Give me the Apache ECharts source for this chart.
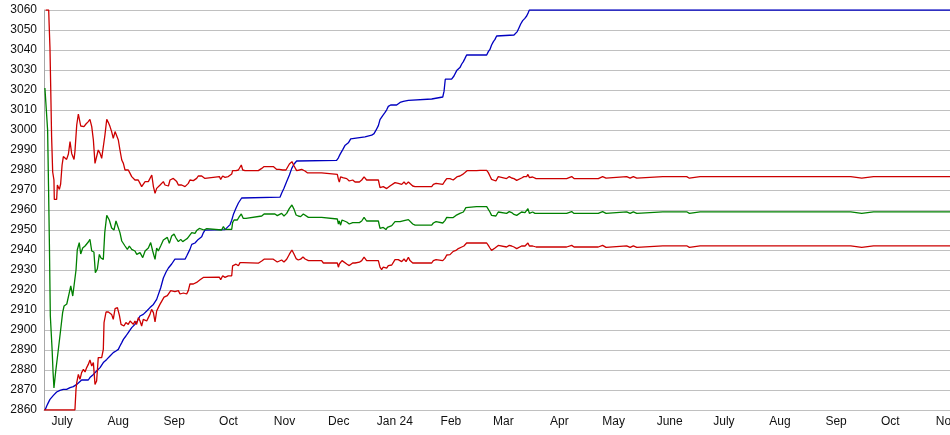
<!DOCTYPE html>
<html>
<head>
<meta charset="utf-8">
<script src="https://cdn.jsdelivr.net/npm/echarts@6/dist/echarts.min.js"></script>
<style>
  html, body { margin: 0; padding: 0; background: #fff; }
  #chart { width: 950px; height: 435px; }
</style>
</head>
<body>
<div id="chart"></div>
<script>
// x values are days since 2023-06-21
const startDate = '2023-06-21';
const lastDay = 501;
const monthTicks = ['2023-07-01','2023-08-01','2023-09-01','2023-10-01','2023-11-01','2023-12-01','2024-01-01','2024-02-01','2024-03-01','2024-04-01','2024-05-01','2024-06-01','2024-07-01','2024-08-01','2024-09-01','2024-10-01','2024-11-01'];
const monthLabels = ['July','Aug','Sep','Oct','Nov','Dec','Jan 24','Feb','Mar','Apr','May','June','July','Aug','Sep','Oct','Nov'];
const yTicks = {min: 2860, max: 3060, step: 10};

const upperRed = [[0.9,3060],[2.6,3060],[2.8,3054],[3.3,3041],[3.7,3021.7],[4.2,2996.7],[4.8,2979],[5.5,2975],[5.7,2965.3],[7,2965.3],[7.4,2972.5],[8.5,2970.3],[9.2,2973],[10,2982.5],[10.7,2986.7],[11.6,2987.5],[12.5,2985.3],[13.5,2988],[14.4,2994.2],[15.3,2988.3],[16.6,2985.3],[17.1,2989.2],[18.1,3002.5],[19,3008],[19.5,3008.3],[20.3,3002],[21.2,3003],[22.1,3001.7],[23.2,3003],[24.5,3004.2],[25.4,3005.3],[26.4,3001.7],[27.3,2995],[28.2,2983.3],[29.1,2982.5],[30,2990],[31,2988.3],[31.9,2985.8],[32.8,2985],[33.7,2997.5],[34.7,3005.3],[35.6,3003.7],[36.5,3001.7],[37.4,2999.2],[38.3,2995.8],[39.3,2999.2],[40.2,2999],[41.1,2995],[42,2990],[43,2985],[43.9,2983.3],[44.8,2980],[45.7,2979.2],[46.6,2980],[47.6,2978.3],[48.5,2976.7],[49.4,2977.5],[50.3,2975],[51.3,2974.2],[52.1,2975],[53.1,2973.3],[54,2971.7],[54.9,2970.8],[55.9,2974.2],[56.8,2975],[57.7,2974.2],[58.6,2975],[59.6,2977.5],[60.5,2971.7],[61.4,2968.3],[62.3,2970.8],[63.2,2971.7],
[64.2,2972.5],[65.1,2973.3],[66,2974.2],[66.9,2972.5],[67.8,2973.3],[68.8,2972],[69.7,2975],[70.6,2974.7],[71.5,2975.8],[72.4,2976.3],[73.4,2974.2],[74.3,2972.5],[75.2,2971.7],[76.1,2972.5],[77.1,2972.5],[78,2971.7],[78.9,2971.7],[79.8,2973.3],[80.7,2975],[81.7,2975.3],[82.6,2974.7],[83.5,2975.3],[84.4,2975.8],[85.3,2977],[86.3,2977.5],[87.2,2977],[88.1,2976.3],[89,2975.8],[90,2976.7],[97,2976.7],[97.7,2975.3],[98.8,2977],[100.1,2976.3],[101.9,2976.7],[102.9,2977],[103.8,2978],[104.3,2979.7],[105.1,2980.3],[106.2,2979.7],[107.5,2980],[108.4,2980.8],[109.1,2982.5],[109.9,2980],[111.2,2979.7],[118.5,2979.7],[119.5,2980.3],[120.4,2980.8],[121.7,2981.7],[126.8,2981.7],[127.7,2980.8],[128.7,2980.3],[130.1,2980.3],[130.9,2980.8],[132,2980],[132.7,2980.8],[133.8,2980],[134.6,2980.8],[135.7,2983],[137.1,2984.2],[138.3,2982],[139.7,2979.7],[141.2,2980],
[142.5,2980.3],[143.4,2980.6],[144.3,2979.5],[145.6,2978.6],[153.5,2978.6],[154.5,2977.8],[162.2,2977.8],[162.8,2975.3],[163.3,2974],[164,2976.6],[165.2,2976.2],[165.9,2977],[167.4,2975.7],[168.8,2974.5],[169.6,2973.7],[170.7,2975],[172,2974],[174.4,2974],[175.7,2975],[177,2976.6],[178.4,2975],[184.9,2975],[185.8,2971.2],[186.7,2970.7],[187.6,2971.7],[188.6,2970.7],[189.5,2970.7],[190.4,2971.7],[191.3,2972],[192.3,2972],[194.1,2973.7],[195,2972.8],[195.9,2973.3],[196.9,2973.7],[197.8,2972.8],[199.1,2974],[200.2,2972.8],[201.5,2974],[202.4,2973.3],[203.9,2972],[205.2,2971.7],[214.4,2971.7],[215.3,2972.8],[216.8,2973.3],[220.5,2972.8],[221.7,2974.5],[222.7,2975.7],
[224.5,2975.7],[225.4,2975.7],[226.3,2975],[227.3,2975.3],[228.6,2976.7],[230,2977],[231.5,2977.8],[232.8,2978.7],[234.1,2979.7],[239.2,2979.7],[240.2,2980.7],[241.1,2979.8],[244.8,2979.8],[245.7,2978.7],[246.6,2977],[247.5,2975.3],[248.5,2974.5],[249.9,2974.5],[251.2,2976.7],[252.1,2975.7],[255.8,2975.7],[257.3,2976.7],[258.6,2976],[259.9,2975.7],[261.4,2974.8],[262.5,2975.7],[264.1,2976],[265.4,2976.7],[266.9,2976.7],[267.6,2977.8],[268.4,2976.2],[269.1,2976.7],[270.2,2976.5],[272.1,2975.7],[282.6,2975.7],[283.1,2976.7],[283.9,2975.7],[289,2975.7],[289.9,2976.7],[291.8,2976.7],[293.1,2975.7],[306.5,2975.7],[307.1,2976.7],[308.9,2976.7],[309.7,2975.9],[310.8,2975.9],[311.6,2976.7],
[322.2,2976.7],[323.2,2975.9],[324.1,2975.9],[325,2976.7],[325.9,2976.7],[326.9,2975.9],[327.8,2975.9],[328.7,2976.7],[342.2,2976.7],[342.9,2975.9],[343.6,2976.7],[355.4,2976.7],[356,2975.9],[356.9,2975.9],[357.6,2976.7],[362.8,2976.7],[363.7,2975.9],[364.6,2976.7],[370.2,2976.7],[370.7,2975.9],[371.3,2976.7],[436.2,2976.7],[436.5,2975.9],[437.1,2976.7],[446.1,2976.7],[446.9,2975.9],[452.2,2975.9],[452.8,2976.7],[458.7,2976.7],[459.6,2975.9],[460.5,2976.7],[501,2976.7]];

const green = [[0.5,3021],[1,3014],[2,3000],[2.5,2972],[3,2942],[3.5,2907],[4.5,2890],[5,2879],[5.5,2871],[6.5,2879.5],[7.9,2890],[9.2,2900],[10.3,2908.7],[11.1,2912],[12.6,2913],[14,2918.7],[14.8,2922],[15.9,2917],[16.8,2917],[17.7,2930],[18.4,2940],[19.5,2943.7],[20.3,2938],[21.4,2941],[22.7,2942],[24.5,2944],[25.4,2945.3],[26.4,2939.5],[27.6,2939],[28.4,2928.7],[29.5,2930.5],[30.6,2937.8],[31.5,2936],[32.8,2935.3],[33.6,2948.7],[34.7,2957.3],[36.1,2955],[37.4,2951],[38.7,2950],[39.8,2954.5],[40.9,2954.5],[42,2948.7],[43,2944.5],[44.8,2942],[46.1,2940.3],[47.2,2942],[48.5,2940.3],[50.3,2939.5],[51.3,2937.8],[53.1,2938.7],[54.6,2936.2],[55.9,2939.5],[57.7,2941],[59,2943.7],[60.1,2939.5],[61.4,2935.3],[62.3,2941],[63.2,2939.5],[64.5,2942],
[66,2945],[68.2,2946.3],[69.3,2943.3],[70.6,2947],[71.9,2948],[73,2946],[74.3,2944.2],[75.6,2945.3],[76.7,2944.2],[78,2945],[79.3,2945.8],[80.4,2946.3],[81.7,2948.7],[82.6,2949.2],[83.5,2948.3],[84.4,2949.7],[85.9,2950.8],[88.5,2950],[90,2950.7],[98.2,2950],[99.2,2951.7],[100.1,2950.3],[101.9,2950.3],[102.9,2951.3],[103.8,2950.3],[104.3,2953.7],[105.1,2955],[106.2,2955.3],[106.9,2955],[108,2956.7],[109.1,2958],[110.2,2955.8],[111.7,2955.8],[120.4,2957],[121.7,2958],[127.7,2958],[129,2957.2],[130.1,2957.2],[131.4,2958.3],[132.7,2957],[134.2,2958.3],[135.7,2960.8],[137.1,2962.5],[138.3,2960.3],[139.4,2957.5],[140.6,2957],[141.9,2956.7],[143.4,2958],[144.5,2957],[146.2,2956.3],
[153.5,2956.3],[154.5,2955.5],[162.2,2955.5],[162.8,2953],[163.3,2954.5],[164,2952.4],[164.8,2955],[165.9,2954.5],[167.4,2954],[168.8,2953],[169.6,2952],[170.7,2953.7],[174.4,2953.7],[175.7,2954.5],[177,2956.3],[178.4,2954.5],[184.9,2954.5],[185.8,2950.8],[186.7,2950.5],[187.6,2951.3],[188.6,2950.5],[189.1,2950.2],[189.9,2951.3],[191,2952.2],[192.3,2952.2],[194.1,2954.2],[195,2953.5],[196.9,2954.2],[197.8,2953.5],[199.1,2954.7],[200.2,2953.8],[201.5,2955.2],[202.4,2954.2],[203.9,2953],[205.2,2952.4],[214.4,2952.4],[215.3,2953.5],[216.8,2954.2],[220.5,2953.5],[221.7,2954.7],[222.7,2956.3],
[224.5,2956.2],[226.3,2956.2],[227.8,2957.3],[230,2958.3],[231.9,2959],[233.3,2961.2],[234.1,2961.7],[239.2,2961.7],[240.2,2962.5],[241.1,2961.7],[244.8,2961.7],[245.7,2960.7],[246.6,2959],[247.5,2957.3],[248.1,2957],[249.9,2957],[251.2,2959],[252.1,2958.3],[255.8,2958.3],[257.3,2959.2],[258.6,2958.7],[259.9,2957.8],[261.4,2957.3],[262.5,2958.3],[264.1,2959],[266,2958.7],[266.9,2959.5],[267.6,2960.7],[268.4,2958.3],[269.1,2959.3],[270.2,2959],[271.5,2958.3],[282.6,2958.3],[283.1,2959.2],[283.9,2958.3],[289,2958.3],[289.9,2959.2],[291.8,2959.2],[293.1,2958.3],[306.5,2958.3],[307.1,2959.2],[308.9,2959.2],[309.7,2958.3],[310.8,2958.3],[311.6,2959.1],
[322.2,2959.1],[323.2,2958.3],[324.1,2958.3],[325,2959.1],[325.9,2959.1],[326.9,2958.3],[327.8,2958.3],[328.7,2959.1],[342.2,2959.1],[342.9,2958.3],[343.6,2959.1],[355.4,2959.1],[356,2958.3],[356.9,2958.3],[357.6,2959.1],[362.8,2959.1],[363.7,2958.3],[364.6,2959.1],[370.2,2959.1],[370.7,2958.3],[371.3,2959.1],[436.2,2959.1],[436.5,2958.3],[437.1,2959.1],[446.1,2959.1],[446.9,2958.3],[452.2,2958.3],[452.8,2959.1],[458.7,2959.1],[459.6,2958.3],[460.5,2959.1],[501,2959.1]];

const lowerRed = [[0,2860],[17.1,2860],[17.7,2870.3],[18.1,2873.7],[19,2877.8],[19.9,2875.3],[20.8,2878.7],[21.8,2880.3],[22.7,2879],[23.6,2881.2],[24.5,2882.8],[25.4,2885],[26.4,2882],[27.3,2883.7],[28.2,2872.8],[29.1,2874.5],[30,2886.2],[31,2885.3],[31.9,2886.2],[32.8,2890.3],[33.2,2903.7],[34.3,2909],[35.6,2909],[36.5,2909],[37.4,2907.8],[38.3,2905.3],[39.3,2910.7],[40.6,2911.2],[41.7,2907.3],[42.6,2902.8],[43.5,2902.8],[44.2,2902],[45.3,2903.7],[46.6,2902.8],[47.6,2904.5],[48.5,2904.5],[49.4,2902.8],[50.3,2904.5],[51.2,2902.8],[52.2,2906.2],[53.1,2904.5],[54,2902],[54.9,2905.3],[55.9,2904.5],[56.8,2904.5],[57.7,2906.2],[58.6,2907.8],[59.5,2910.3],[60.5,2908.7],[61.4,2904],[62.3,2909.5],[63.2,2911.2],[64.1,2912.8],
[65.6,2915.2],[66.4,2916.4],[67.5,2915.5],[68.2,2917.2],[69.3,2918],[70.1,2919.7],[71.2,2920.5],[72.4,2919.2],[73.4,2918.8],[74.3,2919.7],[75.2,2918],[76.1,2917.5],[77.1,2918.5],[78,2917.5],[78.9,2918],[79.8,2919.7],[80.7,2923],[81.7,2923.5],[82.6,2923],[83.5,2923],[84.4,2923.8],[85.3,2924.6],[86.3,2925.1],[87.2,2925.5],[88.1,2926.3],[89,2926.4],[97,2926.4],[97.7,2925.1],[98.8,2927.1],[100.1,2926.3],[101,2926.8],[101.9,2927.1],[102.9,2926.3],[103.8,2927.1],[104.3,2932.1],[105.1,2931.2],[106.2,2932.9],[107.5,2932.1],[108.4,2933.7],[109.1,2934.5],[110.2,2933.7],[111.2,2933.4],[118.5,2933.4],[119.5,2934],[120.4,2934.5],[121.7,2935.4],[126.8,2935.4],[127.7,2934.5],[129,2934],[130.1,2934],[131.4,2935],[132.7,2934],[134.2,2935.4],[135.7,2937.9],[137.1,2940],[138.3,2937.9],[139.4,2935.7],[140.6,2935],[141.9,2935.4],[143.2,2936.5],[144.4,2935.5],
[146.2,2934.7],[153.5,2934.7],[154.5,2933.5],[162.2,2933.5],[162.8,2931.4],[163.3,2933],[164,2932.2],[164.8,2934.7],[165.9,2933.9],[167.4,2933],[168.8,2932.2],[169.6,2931.4],[170.7,2933.5],[172,2933.5],[174.4,2933.9],[175.7,2934.7],[177,2936.4],[178.4,2934.7],[184.9,2934.7],[185.8,2931.4],[186.7,2930.2],[187.6,2931.4],[188.6,2930.5],[189.5,2930.9],[190.4,2932.2],[191.3,2932.5],[192.3,2932.5],[194.1,2935.2],[195,2934.2],[195.9,2935.2],[196.9,2935.2],[197.8,2934.2],[199.1,2935.5],[200.2,2934.2],[201.5,2936.4],[202.4,2934.7],[203.9,2933.5],[205.2,2933.5],[214.4,2933.5],[215.3,2934.7],[216.8,2935.2],[220.5,2934.7],[221.7,2935.8],[222.7,2937.5],
[224.5,2937.7],[225.4,2938.2],[226.3,2939.3],[227.8,2939.8],[229.1,2940.7],[231,2941.5],[232.2,2942],[233.7,2943.5],[239.2,2943.5],[240.2,2944.5],[241.1,2943.5],[244.8,2943.5],[245.7,2942.3],[246.6,2941],[247.5,2939.8],[248.5,2940.7],[249.4,2941],[251.2,2942.3],[252.1,2941.5],[255.8,2941.5],[257.3,2942.3],[258.6,2942],[259.9,2941.5],[261.4,2940.7],[262.5,2941.5],[264.1,2942],[266,2942],[266.9,2942.3],[267.6,2943.5],[268.4,2942],[269.1,2942.3],[270.2,2942],[272.1,2941.5],[282.6,2941.5],[283.1,2942.3],[283.9,2941.5],[289,2941.5],[289.9,2942.3],[291.8,2942.3],[293.1,2941.5],[306.5,2941.5],[307.1,2942.3],[308.9,2942.3],[309.7,2941.3],[310.8,2941.3],[311.6,2942.1],
[322.2,2942.1],[323.2,2941.3],[324.1,2941.3],[325,2942.1],[325.9,2942.1],[326.9,2941.3],[327.8,2941.3],[328.7,2942.1],[342.2,2942.1],[342.9,2941.3],[343.6,2942.1],[355.4,2942.1],[356,2941.3],[356.9,2941.3],[357.6,2942.1],[362.8,2942.1],[363.7,2941.3],[364.6,2942.1],[370.2,2942.1],[370.7,2941.3],[371.3,2942.1],[436.2,2942.1],[436.5,2941.3],[437.1,2942.1],[446.1,2942.1],[446.9,2941.3],[452.2,2941.3],[452.8,2942.1],[458.7,2942.1],[459.6,2941.3],[460.5,2942.1],[501,2942.1]];

const blue = [[0.6,2860],[1.5,2862],[2.4,2863.7],[3.3,2865.3],[5.2,2867.3],[7,2869],[8.8,2869.8],[10.7,2870.3],[12.5,2870.3],[14.4,2871.2],[16.2,2871.7],[18.1,2872.8],[19,2873.7],[20.8,2875],[24.5,2875],[25.4,2876.2],[27.3,2877.8],[29.1,2879.5],[31,2881.2],[32.8,2883.7],[34.7,2885.3],[36.5,2887],[38.3,2888.7],[39.8,2889.5],[41.1,2890.3],[42,2892],[43,2893.7],[43.9,2895.3],[45.3,2897],[46.6,2898.7],[47.6,2899.5],[48.5,2901.2],[50.3,2902.8],[51.6,2904.5],[53.1,2907],[54.9,2907.8],[56.8,2909.5],[58.6,2911.2],[60.5,2912.8],[62.3,2915.3],[64.5,2921],[66,2926],[67.5,2929],[68.8,2931],[70.6,2933],[72.4,2935.4],[78,2935.4],[78.9,2937],[80.7,2940.3],[81.7,2942.8],[83.5,2943.5],[85.3,2945.3],[87.2,2946.6],[88.1,2948.6],[89,2949.9],[100.1,2950.2],[101,2951],[102.9,2952.7],[103.8,2954.9],[104.7,2957.7],[106.2,2961],[107.5,2963.5],[109.3,2966],[110.2,2966.4],[130.5,2966.4],[131.4,2968.4],[132.7,2970.9],[134.2,2974.2],[135.7,2977.5],[137,2980.8],[138.3,2983],[139.7,2984.5],
[161.8,2984.8],[162.8,2986.1],[163.7,2987.8],[165.2,2990.2],[166.4,2992.2],[168.3,2993.6],[169.6,2995.6],[170.7,2996.6],[177.5,2996.6],[178.4,2997.4],[181.2,2997.4],[182.5,2998.2],[183.6,2999.9],[184.9,3002.2],[185.8,3005.2],[187.3,3007.2],[188.6,3008.8],[189.5,3010.1],[190.4,3011.8],[191.7,3012.5],[195,3012.5],[196.9,3013.8],[198.7,3014.3],[201.5,3014.8],[202,3015.5],[214.4,3015.5],[215.3,3016.5],[220.5,3016.5],[221.2,3019.3],[221.9,3025.4],[225.4,3025.4],[226.7,3027],[228.2,3029.7],[230,3031.2],[231,3033],[231.9,3034.2],[232.8,3035.8],[233.7,3037.5],[244.8,3037.5],[245.7,3039.2],[246.6,3040.3],[247.5,3042.5],[248.5,3044.2],[249.4,3045.3],[250.3,3047],[251.2,3047.5],[259.9,3047.5],[261,3048.3],[261.7,3049.2],[262.5,3050.8],[263.6,3053],[264.7,3054.7],[265.9,3055.8],[266.9,3057],[267.8,3058.7],[268.4,3060],[501,3060]];

const tickDays = monthTicks.map(t => Math.round((Date.parse(t) - Date.parse(startDate)) / 86400000));
const labelByDay = {};
tickDays.forEach((d, i) => { labelByDay[d] = monthLabels[i]; });

const chart = echarts.init(document.getElementById('chart'), null, { renderer: 'canvas' });
const txt = { color: '#111', fontFamily: 'Liberation Sans, Arial, sans-serif', fontSize: 12 };
function line(name, data, color) {
  return { name, type: 'line', data, symbol: 'none', showSymbol: false, animation: false,
           lineStyle: { color, width: 1.3 }, itemStyle: { color }, z: 3 };
}
chart.setOption({
  animation: false,
  backgroundColor: '#ffffff',
  grid: { left: 44, right: 0, top: 10, bottom: 25, containLabel: false, outerBoundsMode: 'none' },
  xAxis: {
    type: 'value', min: 0, max: lastDay,
    axisLabel: Object.assign({ customValues: tickDays, margin: 6, hideOverlap: false,
      formatter: v => labelByDay[Math.round(v)] || '' }, txt),
    axisTick: { show: false },
    splitLine: { show: false },
    axisLine: { show: true, lineStyle: { color: '#c0c0c0', width: 1 } }
  },
  yAxis: {
    type: 'value', min: yTicks.min, max: yTicks.max, interval: yTicks.step,
    axisLabel: Object.assign({ margin: 7, formatter: v => String(v) }, txt),
    axisTick: { show: false },
    splitLine: { show: true, lineStyle: { color: '#c0c0c0', width: 1 } },
    axisLine: { show: true, lineStyle: { color: '#a8a8a8', width: 1 } }
  },
  series: [
    line('Blue', blue, '#0000c0'),
    line('Green', green, '#008000'),
    line('Lower', lowerRed, '#cc0000'),
    line('Upper', upperRed, '#cc0000')
  ]
});
</script>
</body>
</html>
